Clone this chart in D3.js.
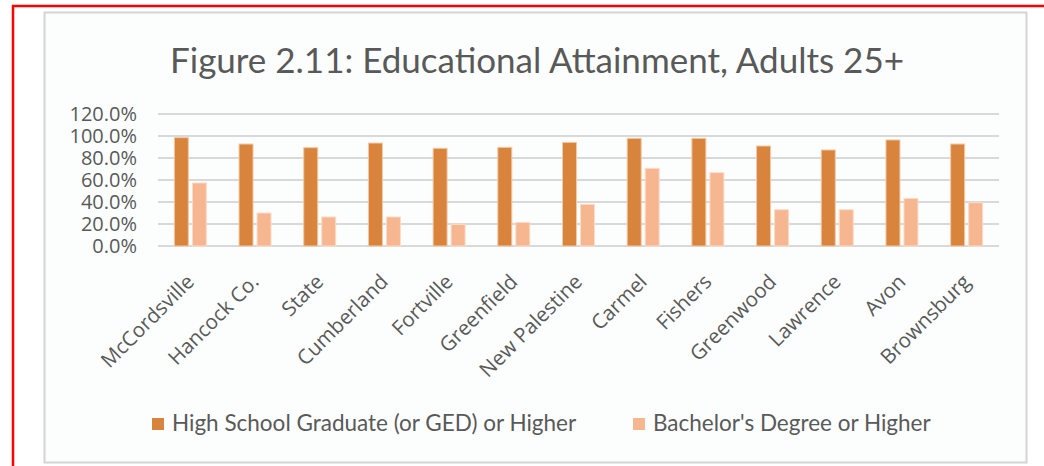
<!DOCTYPE html>
<html>
<head>
<meta charset="utf-8">
<script src="https://cdn.jsdelivr.net/npm/d3@7"></script>
<style>
  body { margin: 0; background: #fff; }
  svg { display: block; }
</style>
</head>
<body>
<svg id="chart" width="1044" height="466"></svg>
<script>
// data
var places = ["McCordsville", "Hancock Co.", "State", "Cumberland", "Fortville", "Greenfield",
  "New Palestine", "Carmel", "Fishers", "Greenwood", "Lawrence", "Avon", "Brownsburg"];
var highSchool = [98.5, 92.7, 89.4, 93.6, 88.8, 89.7, 94.2, 97.9, 97.9, 90.9, 87.3, 96.4, 92.7];
var bachelor = [57.3, 30.0, 26.4, 26.4, 19.7, 21.5, 37.9, 70.6, 66.7, 33.0, 33.0, 43.3, 39.4];
var seriesNames = ["High School Graduate (or GED) or Higher", "Bachelor's Degree or Higher"];
var yTicks = [0, 20, 40, 60, 80, 100, 120];

var colors = ["#d8843c", "#f6b690"];

var svg = d3.select("#chart");

// red outline around the figure
svg.append("line").attr("x1", 12).attr("y1", 6).attr("x2", 1044).attr("y2", 6)
  .style("stroke", "#ff0000").style("stroke-width", 2.5);
svg.append("line").attr("x1", 13).attr("y1", 5).attr("x2", 13).attr("y2", 466)
  .style("stroke", "#ff0000").style("stroke-width", 2.5);

// chart frame
svg.append("rect")
  .attr("x", 44.5).attr("y", 12.5).attr("width", 982).attr("height", 450)
  .style("fill", "#fcfefe")
  .style("stroke", "#d4d4d4")
  .style("stroke-width", 2);

svg.append("text")
  .attr("x", 537).attr("y", 73)
  .attr("text-anchor", "middle")
  .style("font-family", "Lato, 'Open Sans', sans-serif")
  .style("font-size", "35px")
  .style("fill", "#595959")
  .text("Figure 2.11: Educational Attainment, Adults 25+");

var plotLeft = 158, plotRight = 999, plotTop = 114, plotBottom = 246;

var x = d3.scaleBand().domain(places).range([plotLeft, plotRight]);
var y = d3.scaleLinear().domain([0, 120]).range([plotBottom, plotTop]);

// gridlines
svg.selectAll(".grid")
  .data(yTicks)
  .enter()
  .append("line")
  .attr("class", "grid")
  .attr("x1", plotLeft).attr("x2", plotRight)
  .attr("y1", d => y(d)).attr("y2", d => y(d))
  .style("stroke", "#d9d9d9")
  .style("stroke-width", 2);

// y axis labels
var yAxis = d3.axisLeft(y).tickValues(yTicks).tickSize(0).tickPadding(0)
  .tickFormat(d => d.toFixed(1) + "%");
var yg = svg.append("g").attr("transform", "translate(137,0)").call(yAxis);
yg.select(".domain").remove();
yg.selectAll("text")
  .style("font-family", "'Open Sans', sans-serif")
  .style("font-size", "20px")
  .style("fill", "#595959");

// bars
var barW = 14, gap = 4;
var groups = svg.selectAll(".grp")
  .data(places)
  .enter()
  .append("g")
  .attr("transform", d => "translate(" + (x(d) + x.bandwidth() / 2) + ",0)");

groups.append("rect")
  .attr("x", -(barW + gap / 2))
  .attr("y", (d, i) => y(highSchool[i]))
  .attr("width", barW)
  .attr("height", (d, i) => plotBottom - y(highSchool[i]))
  .style("fill", colors[0])
  .style("stroke", "#f3c9a6").style("stroke-width", 1);

groups.append("rect")
  .attr("x", gap / 2)
  .attr("y", (d, i) => y(bachelor[i]))
  .attr("width", barW)
  .attr("height", (d, i) => plotBottom - y(bachelor[i]))
  .style("fill", colors[1])
  .style("stroke", "#fbdcc8").style("stroke-width", 1);

// category labels
var xAxis = d3.axisBottom(x).tickSize(0).tickPadding(0);
var xg = svg.append("g").attr("transform", "translate(0," + plotBottom + ")").call(xAxis);
xg.select(".domain").remove();
xg.selectAll("text")
  .attr("text-anchor", "end")
  .attr("dy", 0)
  .attr("y", 0)
  .attr("transform", "translate(5,37) rotate(-45)")
  .style("font-family", "'Open Sans', sans-serif")
  .style("font-size", "20.5px")
  .style("fill", "#595959");

// legend
var legendX = [152, 633];
var legend = svg.selectAll(".leg")
  .data(seriesNames)
  .enter()
  .append("g")
  .attr("transform", (d, i) => "translate(" + legendX[i] + ",418)");

legend.append("rect")
  .attr("width", 12).attr("height", 12)
  .style("fill", (d, i) => colors[i]);

legend.append("text")
  .attr("x", 20).attr("y", 13)
  .style("font-family", "Lato, 'Open Sans', sans-serif")
  .style("font-size", "22.5px")
  .style("fill", "#595959")
  .text(d => d);
</script>
</body>
</html>
